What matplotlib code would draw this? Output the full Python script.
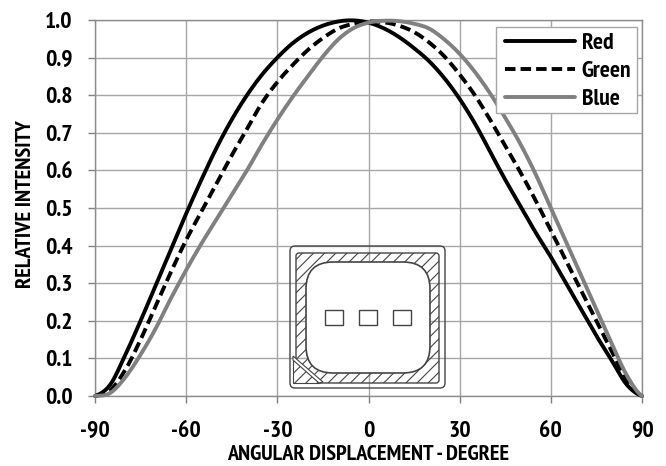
import numpy as np
import matplotlib
matplotlib.use('Agg')
import matplotlib.pyplot as plt
from matplotlib.patches import FancyBboxPatch, Rectangle, Polygon
from matplotlib import font_manager as fm

names = {f.name for f in fm.fontManager.ttflist}
prefer = ['PT Sans Narrow', 'Fira Sans Extra Condensed', 'Fira Sans Condensed', 'Asap Condensed', 'Barlow Condensed', 'Archivo Narrow', 'Liberation Sans']
FONT = next(n for n in prefer if n in names)
plt.rcParams['font.family'] = FONT
plt.rcParams['font.weight'] = 'bold'
plt.rcParams['axes.labelweight'] = 'bold'
plt.rcParams['axes.unicode_minus'] = False
plt.rcParams['hatch.linewidth'] = 0.8
plt.rcParams['hatch.color'] = '#444444'

angles = [-90, -85, -80, -75, -70, -65, -60, -55, -50, -45, -40, -35, -30, -25, -20, -15, -10, -5,
          0, 5, 10, 15, 20, 25, 30, 35, 40, 45, 50, 55, 60, 65, 70, 75, 80, 85, 90]
red = [0.0, 0.03, 0.11, 0.20, 0.295, 0.39, 0.485, 0.575, 0.66, 0.735, 0.80, 0.855, 0.90, 0.938, 0.966, 0.985, 0.996, 0.999,
       0.993, 0.978, 0.955, 0.925, 0.89, 0.845, 0.79, 0.725, 0.65, 0.575, 0.505, 0.435, 0.37, 0.30, 0.23, 0.16, 0.095, 0.03, 0.0]
green = [0.0, 0.015, 0.07, 0.15, 0.24, 0.33, 0.415, 0.49, 0.565, 0.64, 0.71, 0.78, 0.835, 0.88, 0.92, 0.952, 0.977, 0.99,
         0.996, 0.994, 0.985, 0.968, 0.94, 0.903, 0.855, 0.80, 0.735, 0.665, 0.595, 0.52, 0.44, 0.36, 0.28, 0.20, 0.12, 0.04, 0.0]
blue = [0.0, 0.008, 0.05, 0.11, 0.18, 0.26, 0.335, 0.405, 0.47, 0.535, 0.60, 0.67, 0.735, 0.795, 0.85, 0.903, 0.948, 0.978,
        0.993, 0.998, 0.997, 0.99, 0.977, 0.948, 0.91, 0.862, 0.805, 0.74, 0.67, 0.59, 0.50, 0.41, 0.32, 0.23, 0.14, 0.055, 0.0]
series = [('Red', red, 'black', '-'), ('Green', green, 'black', (0, (2.7, 1.3))), ('Blue', blue, '#808080', '-')]
xticks = [-90, -60, -30, 0, 30, 60, 90]
yticks = [0.0, 0.1, 0.2, 0.3, 0.4, 0.5, 0.6, 0.7, 0.8, 0.9, 1.0]

def smooth(xs, ys, n=6):
    """Catmull-Rom rendering of the read points, like the original's smoothed lines."""
    xs, ys = np.asarray(xs, float), np.asarray(ys, float)
    p = np.r_[ys[0], ys, ys[-1]]
    t = np.linspace(0, 1, n, endpoint=False)[:, None]
    a, b, c, d = p[:-3], p[1:-2], p[2:-1], p[3:]
    yy = 0.5*(2*b + (c-a)*t + (2*a-5*b+4*c-d)*t**2 + (3*b-a-3*c+d)*t**3)
    xx = xs[:-1] + t*np.diff(xs)
    return np.r_[xx.T.ravel(), xs[-1]], np.r_[yy.T.ravel(), ys[-1]]

W, H = 666, 466
fig = plt.figure(figsize=(W/100, H/100), dpi=100)
L, R, T, B = 95, 642, 20, 396
ax = fig.add_axes([L/W, 1-B/H, (R-L)/W, (B-T)/H])
ax.set_xlim(-90, 90); ax.set_ylim(0, 1)
ax.set_xticks(xticks); ax.set_yticks(yticks)
ax.set_yticklabels([f'{v:.1f}' for v in yticks])
ax.grid(True, color='#a6a6a6', lw=1.0)
ax.set_axisbelow(True)
for s in ax.spines.values():
    s.set_color('#8c8c8c'); s.set_linewidth(1.0)
ax.tick_params(axis='both', length=5, width=1, color='#808080', labelsize=17)
ax.tick_params(axis='x', pad=13)
ax.tick_params(axis='y', pad=11)
for n, v, c, ls in series:
    sx, sy = smooth(angles, v)
    ax.plot(sx, sy, color=c, ls=ls, lw=2.8, label=n, solid_capstyle='round', solid_joinstyle='round',
            dash_capstyle='butt', clip_on=False, zorder=3)
ax.set_xlabel('ANGULAR DISPLACEMENT - DEGREE', fontsize=16, labelpad=2)
ax.set_ylabel('RELATIVE INTENSITY', fontsize=16.2, labelpad=7.5, y=0.509)

# legend box in pixel coordinates, legend itself sits on top of it
ax.add_patch(Rectangle((496/W, 1-113/H), 141/W, 86/H, transform=fig.transFigure, fc='white', ec='#a6a6a6',
                       lw=1, zorder=4, clip_on=False))
leg = ax.legend(loc='center left', bbox_to_anchor=((505-L)/(R-L), 1-(71.5-T)/(B-T)), borderaxespad=0,
                fontsize=17, frameon=False, handlelength=2.95, labelspacing=0.28, handletextpad=0.3, borderpad=0)
leg.set_zorder(5)

# inset package drawing (pixel coordinates)
ov = fig.add_axes([0, 0, 1, 1]); ov.set_xlim(0, W); ov.set_ylim(H, 0); ov.axis('off'); ov.patch.set_alpha(0)
ec = '#444444'
ov.add_patch(FancyBboxPatch((290, 246), 155, 142, boxstyle='round,pad=0,rounding_size=5', fc='none', ec=ec, lw=1))
ov.add_patch(FancyBboxPatch((296, 253), 143, 130, boxstyle='round,pad=0,rounding_size=3', fc='none', ec=ec, lw=1, hatch='///'))
ov.add_patch(FancyBboxPatch((306, 262), 124, 111, boxstyle='round,pad=0,rounding_size=27', fc='white', ec=ec, lw=1.2))
for x in (325, 359, 393):
    ov.add_patch(Rectangle((x, 310), 17.5, 15, fc='none', ec=ec, lw=1))
ov.add_patch(Polygon([(293, 358), (293, 383), (320, 383)], closed=True, fc='white', ec=ec, lw=0.8, hatch='///'))
ov.add_patch(Polygon([(293, 356), (323, 382), (319, 383), (293, 360)], closed=True, fc='white', ec=ec, lw=0.8))
fig.savefig('out.png', dpi=100)
